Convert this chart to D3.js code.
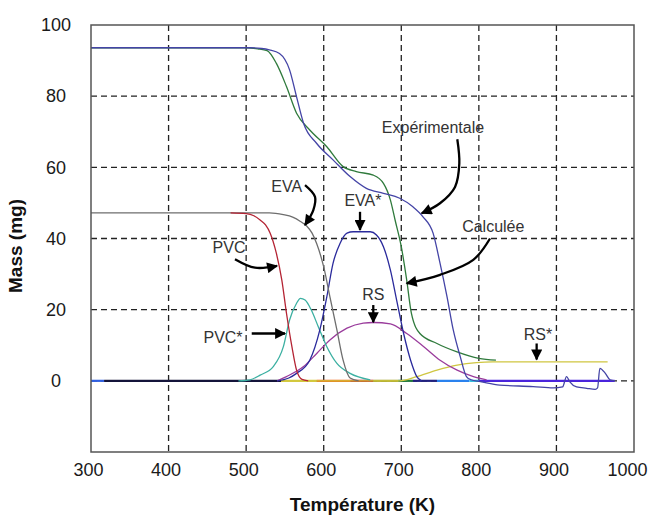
<!DOCTYPE html>
<html>
<head>
<meta charset="utf-8">
<script src="https://cdn.jsdelivr.net/npm/d3@7"></script>
<style>
  body { margin: 0; background: #fff; }
  svg { display: block; font-family: Arial, "Liberation Sans", sans-serif; }
</style>
</head>
<body>
<svg id="chart" width="651" height="525"></svg>
<script>
// data (T in K, mass in mg)
var xTicks = [300, 400, 500, 600, 700, 800, 900, 1000],
    yTicks = [0, 20, 40, 60, 80, 100];

var expT = [300, 505, 520, 530, 543, 556, 565, 574, 591, 612, 634, 655, 677, 698, 715, 728, 741, 750, 759, 767, 776, 784, 790, 802, 827, 870, 896, 908, 913, 917, 926, 939, 950, 953, 956, 963, 969, 975],
    expM = [93.6, 93.6, 93.4, 93.0, 92.0, 87.4, 79.8, 72.4, 66.7, 62.1, 57.4, 54.1, 52.7, 51.3, 48.9, 46.1, 41.5, 33, 23.6, 14.3, 6.8, 1.2, 0.3, -0.2, -1.2, -1.6, -2.0, -1.7, 1.2, -0.2, -1.7, -2.1, -2.4, -2.0, 3.5, 2.1, 0.3, 0];

var calcT = [300, 500, 515, 527, 539, 552, 565, 582, 604, 625, 642, 664, 677, 686, 692, 700, 707, 713, 724, 746, 771, 800, 822],
    calcM = [93.6, 93.6, 93.3, 92.8, 89.2, 82.7, 75.2, 70.5, 65.8, 60.2, 58.8, 57.8, 55.5, 50.8, 45.2, 37.7, 28.3, 19.0, 13.3, 10.5, 8.2, 6.3, 5.8];

var evaT = [300, 530, 548, 560, 570, 578, 585, 591, 600, 608, 617, 625, 634, 645],
    evaM = [47.2, 47.2, 46.7, 46.0, 44.8, 43.5, 41.5, 38.5, 32, 23.6, 14.3, 5.8, 0.8, 0];

var pvcT = [480, 500, 510, 518, 525, 531, 539, 546, 552, 559, 565, 572, 580],
    pvcM = [47.2, 47.0, 46.4, 45.2, 43.8, 41.5, 35.8, 28.3, 19, 9.6, 3, 0.4, 0];

var pvcStarT = [490, 505, 518, 535, 548, 556, 565, 570, 576, 584, 593, 604, 617, 634, 660],
    pvcStarM = [0, 0.3, 1.6, 4, 9.6, 17.1, 21.8, 23.2, 22.7, 19.9, 15.2, 9.6, 4.9, 2.1, 0.3];

var evaStarT = [540, 555, 565, 582, 595, 604, 612, 621, 630, 638, 660, 668, 677, 686, 694, 703, 712, 720, 726],
    evaStarM = [0, 0.8, 2.1, 5.8, 14.3, 23.6, 33, 38.6, 41.5, 41.9, 41.9, 41, 37.7, 31.1, 22.7, 13.3, 5.8, 1.2, 0];

var rsT = [540, 552, 574, 591, 608, 630, 651, 664, 686, 707, 729, 750, 772, 793, 810],
    rsM = [0, 1.2, 4, 7.7, 11.5, 14.8, 16.2, 16.4, 16, 13.3, 9.6, 5.8, 3, 1.2, 0.3];

var rsStarT = [545, 698, 720, 746, 772, 797, 818, 966],
    rsStarM = [0, 0, 1.2, 3, 4.4, 5.1, 5.3, 5.3];

// pieces of traces lying on the zero line
var zeroStart = [300, 317, 545, 591, 634, 664, 696, 715, 746, 788, 800],
    zeroEnd   = [317, 545, 591, 634, 664, 696, 715, 746, 788, 800, 975];

// styles
var zeroColors = ['#2f5fe0', '#14143a', '#d8cc3c', '#f0600e', '#c01c1c', '#a0a024', '#207a3a', '#20207e', '#2a82ee', '#30c0e0', '#4a24dc'];

var series = [
  { t: rsStarT,  m: rsStarM,  color: '#cfc640' },
  { t: rsT,      m: rsM,      color: '#9a3c9c' },
  { t: pvcStarT, m: pvcStarM, color: '#3cb0a2' },
  { t: evaStarT, m: evaStarM, color: '#2a2a9c' },
  { t: evaT,     m: evaM,     color: '#6e6e6e' },
  { t: pvcT,     m: pvcM,     color: '#b42434' },
  { t: calcT,    m: calcM,    color: '#2f7a3c' },
  { t: expT,     m: expM,     color: '#4444a6' }
];

// annotations, in data units
var labels = [
  { text: 'Expérimentale', t: 740.9, m: 69.6 },
  { text: 'Calculée',      t: 818.6, m: 41.9 },
  { text: 'EVA',           t: 552.2, m: 53.1 },
  { text: 'EVA*',          t: 650.6, m: 49.0 },
  { text: 'PVC',           t: 477.9, m: 35.8 },
  { text: 'PVC*',          t: 470.2, m: 10.6 },
  { text: 'RS',            t: 663.9, m: 22.6 },
  { text: 'RS*',           t: 876.2, m: 11.5 }
];

var arrows = [
  [[772.2, 67.9], [774.8, 61.1], [769.3, 54.5], [749.9, 49.9], [726.3, 47.1]],
  [[814.4, 40.0], [792.8, 34.0], [750, 29.8], [707, 27.4]],
  [[575.9, 55.0], [588.8, 51.7], [586.6, 48.0], [575.9, 43.8]],
  [[646.8, 47.5], [646.8, 42.4]],
  [[485.6, 34.2], [511.4, 31.8], [539.8, 32.3]],
  [[507.2, 13.3], [550.1, 13.3]],
  [[663.9, 21.3], [663.9, 16.5]],
  [[874.5, 10.5], [874.5, 6.0]]
];

var margin = { top: 25, right: 17, bottom: 73, left: 91 },
    width = 651 - margin.left - margin.right,
    height = 525 - margin.top - margin.bottom;

var svg = d3.select('#chart');
var g = svg.append('g')
    .attr('transform', 'translate(' + margin.left + ',' + margin.top + ')');

var x = d3.scaleLinear().domain([300, 1000]).range([0, width]),
    y = d3.scaleLinear().domain([-20, 100]).range([height, 0]);

// arrow head
svg.append('defs').append('marker')
    .attr('id', 'head')
    .attr('viewBox', '0 0 10 10')
    .attr('refX', 9)
    .attr('refY', 5)
    .attr('markerUnits', 'userSpaceOnUse')
    .attr('markerWidth', 12)
    .attr('markerHeight', 11)
    .attr('orient', 'auto')
  .append('path')
    .attr('d', 'M0,0L10,5L0,10z')
    .attr('fill', '#000');

// grid
g.selectAll('.gx')
    .data(xTicks.slice(1, -1))
  .enter().append('line')
    .attr('x1', function (d) { return x(d); })
    .attr('x2', function (d) { return x(d); })
    .attr('y1', 0)
    .attr('y2', height)
    .attr('stroke', '#222')
    .attr('stroke-width', 1.3)
    .attr('stroke-dasharray', '6,4');

g.selectAll('.gy')
    .data(yTicks.slice(0, -1))
  .enter().append('line')
    .attr('x1', 0)
    .attr('x2', width)
    .attr('y1', function (d) { return y(d); })
    .attr('y2', function (d) { return y(d); })
    .attr('stroke', '#222')
    .attr('stroke-width', 1.3)
    .attr('stroke-dasharray', '6,4');

// traces on zero
g.selectAll('.zero')
    .data(zeroStart)
  .enter().append('line')
    .attr('x1', function (d) { return x(d); })
    .attr('x2', function (d, i) { return x(zeroEnd[i]); })
    .attr('y1', y(0))
    .attr('y2', y(0))
    .attr('stroke', function (d, i) { return zeroColors[i]; })
    .attr('stroke-width', 2.2);

var line = d3.line()
    .x(function (d) { return x(d[0]); })
    .y(function (d) { return y(d[1]); })
    .curve(d3.curveMonotoneX);

g.selectAll('.curve')
    .data(series)
  .enter().append('path')
    .attr('fill', 'none')
    .attr('stroke', function (d) { return d.color; })
    .attr('stroke-width', 1.3)
    .attr('d', function (d) {
      return line(d.t.map(function (t, i) { return [t, d.m[i]]; }));
    });

// frame
g.append('rect')
    .attr('width', width)
    .attr('height', height)
    .attr('fill', 'none')
    .attr('stroke', '#555')
    .attr('stroke-width', 1.5);

// axes labels
var xAxis = g.append('g')
    .attr('transform', 'translate(0,' + height + ')')
    .call(d3.axisBottom(x).tickValues(xTicks).tickSize(0).tickPadding(11).tickFormat(d3.format('d')));
xAxis.select('.domain').remove();
xAxis.selectAll('text')
    .attr('dx', function (d) { return d === 1000 ? -7 : -3; })
    .attr('font-size', 18)
    .attr('fill', '#1a1a1a')
    .attr('font-family', 'Arial, "Liberation Sans", sans-serif');

var yAxis = g.append('g')
    .call(d3.axisLeft(y).tickValues(yTicks).tickSize(0).tickFormat(d3.format('d')));
yAxis.select('.domain').remove();
yAxis.selectAll('text')
    .attr('x', -35)
    .attr('text-anchor', 'middle')
    .attr('font-size', 18)
    .attr('fill', '#1a1a1a')
    .attr('font-family', 'Arial, "Liberation Sans", sans-serif');

svg.append('text')
    .attr('x', margin.left + width / 2)
    .attr('y', 511)
    .attr('text-anchor', 'middle')
    .attr('font-size', 19)
    .attr('font-weight', 'bold')
    .attr('fill', '#111')
    .text('Température (K)');

svg.append('text')
    .attr('transform', 'translate(22,' + 246 + ') rotate(-90)')
    .attr('text-anchor', 'middle')
    .attr('font-size', 19)
    .attr('font-weight', 'bold')
    .attr('fill', '#111')
    .text('Mass (mg)');

// annotations
g.selectAll('.lbl')
    .data(labels)
  .enter().append('text')
    .attr('x', function (d) { return x(d.t); })
    .attr('y', function (d) { return y(d.m); })
    .attr('text-anchor', 'middle')
    .attr('font-size', 16)
    .attr('fill', '#333')
    .text(function (d) { return d.text; });

var arrowLine = d3.line()
    .x(function (d) { return x(d[0]); })
    .y(function (d) { return y(d[1]); })
    .curve(d3.curveCatmullRom);

g.selectAll('.arrow')
    .data(arrows)
  .enter().append('path')
    .attr('fill', 'none')
    .attr('stroke', '#000')
    .attr('stroke-width', 2.3)
    .attr('marker-end', 'url(#head)')
    .attr('d', arrowLine);
</script>
</body>
</html>
